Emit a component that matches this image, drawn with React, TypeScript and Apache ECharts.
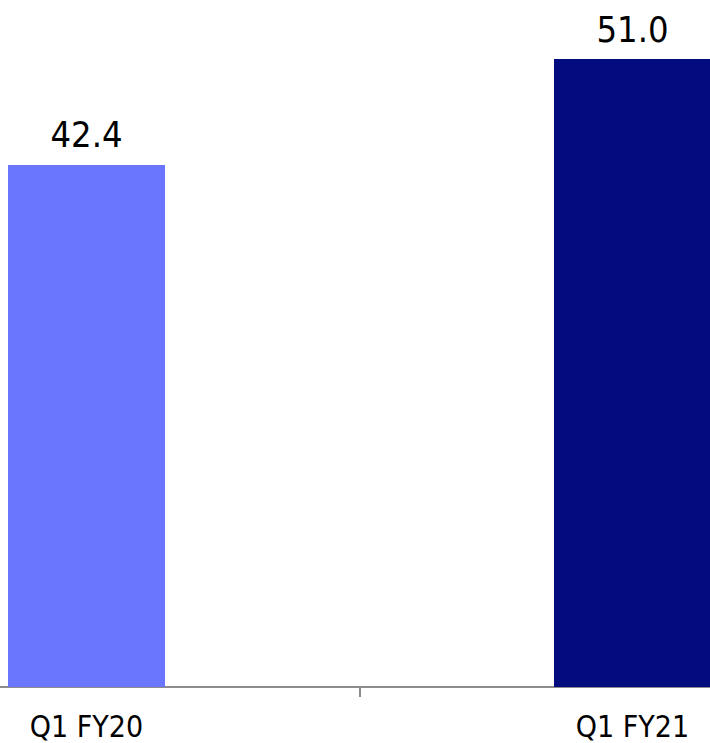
import React, { useEffect, useRef } from "react";
import * as echarts from "echarts";

const categories = ["Q1 FY20", "Q1 FY21"];
const values = [42.4, 51.0];
const barColors = ["#6a76fe", "#020c7e"];

export default function App() {
  const ref = useRef<HTMLDivElement>(null);
  useEffect(() => {
    if (!ref.current) return;
    const chart = echarts.init(ref.current, null, { renderer: "svg" });
    chart.setOption({
      animation: false,
      grid: {
        left: -186.5,
        width: 1092,
        top: 59,
        bottom: 56,
        containLabel: false,
        outerBoundsMode: "none",
      },
      xAxis: {
        type: "category",
        data: categories,
        axisLine: { show: true, lineStyle: { color: "#8c8c8c", width: 2 } },
        axisTick: { show: true, length: 10, lineStyle: { color: "#8c8c8c", width: 2 } },
        axisLabel: {
          color: "#000",
          fontFamily: "'DejaVu Sans Condensed', 'DejaVu Sans', sans-serif",
          fontSize: 30,
          margin: 24,
        },
      },
      yAxis: {
        type: "value",
        min: 0,
        max: 51,
        show: false,
        splitLine: { show: false },
      },
      series: [
        {
          type: "bar",
          barWidth: 157,
          data: values.map((v, i) => ({ value: v, itemStyle: { color: barColors[i] } })),
          label: {
            show: true,
            position: "top",
            distance: 12,
            color: "#000",
            fontFamily: "'DejaVu Sans Condensed', 'DejaVu Sans', sans-serif",
            fontSize: 36,
            formatter: (p: any) => Number(p.value).toFixed(1),
          },
        },
      ],
    });
    return () => chart.dispose();
  }, []);
  return (
    <div
      ref={ref}
      style={{ position: "fixed", left: 0, top: 0, width: 710, height: 743, background: "#fff" }}
    />
  );
}
